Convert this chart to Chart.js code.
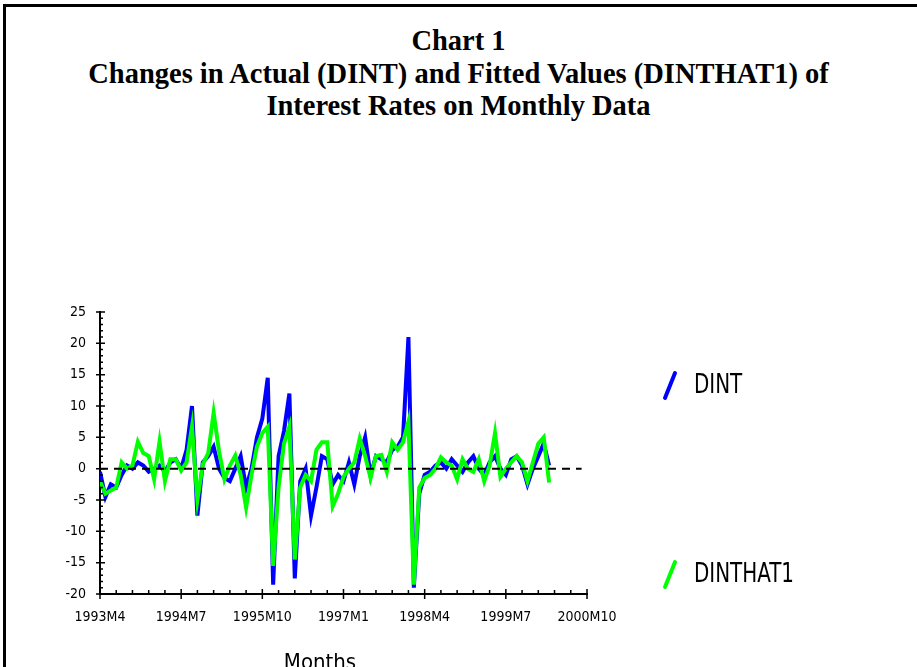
<!DOCTYPE html>
<html>
<head>
<meta charset="utf-8">
<script src="https://cdn.jsdelivr.net/npm/chart.js@4.4.1/dist/chart.umd.min.js"></script>
<style>
  html, body { margin: 0; padding: 0; background: #fff; overflow: hidden; }
  body { width: 917px; height: 667px; position: relative; }
  #frame {
    position: absolute; left: 3px; top: 4px; width: 1000px; height: 800px;
    border-left: 3px solid #000; border-top: 3px solid #000;
  }
  #title {
    position: absolute; left: 0; top: 25px; width: 917px; text-align: center;
    font: bold 28.5px "Liberation Serif", "Times New Roman", serif; line-height: 32.5px; color: #000;
  }
  #xtitle {
    position: absolute; left: 270px; width: 100px; top: 649px; text-align: center;
    font: 22px "DejaVu Sans Condensed", "Liberation Sans", Arial, sans-serif; color: #000;
  }
  #wrap { position: absolute; left: 0; top: 0; width: 917px; height: 667px; }
</style>
</head>
<body>
<div id="frame"></div>
<div id="title">Chart 1<br>Changes in Actual (DINT) and Fitted Values (DINTHAT1) of<br>Interest Rates on Monthly Data</div>
<div id="wrap"><canvas id="chart" width="917" height="667"></canvas></div>
<div id="xtitle">Months</div>
<script>
// Tick labels (every 15 months starting 1993M4)
const xTickLabels = ["1993M4", "1994M7", "1995M10", "1997M1", "1998M4", "1999M7", "2000M10"];

// Monthly changes, 1993M4 .. 2000M3
const dint = [
  -0.5, -4.5, -2.5, -3, -1, 0.5, 0, 1, 0.5, -0.5,
  0, 0.5, -0.5, 1, 1.5, 0, 3, 10, -7.5, 1,
  2, 3.5, 0, -1.5, -2, 0, 2, -3, 0, 5,
  8, 14.5, -18.5, 2, 6, 12, -17.5, -2, 0, -7.5,
  -3, 2, 1.5, -2.5, -1, -2, 1, -2.5, 2, 5,
  -1, 2, 1.5, 1, 3, 3.5, 5, 21, -19, -4,
  -1, -0.5, 0.5, 1, 0, 1.5, 0.5, -0.5, 1, 2,
  0, -1, 1, 2, 0, -1, 1.5, 2, 0.5, -2.5,
  0, 2, 4, 0.5
];
const dinthat1 = [
  -2, -4, -3.5, -3, 1, 0, 0.5, 4.3, 2.5, 2,
  -1.7, 4.3, -2, 1.5, 1.5, -0.3, 1, 6.7, -5, 0.7,
  2.5, 8.9, 2.8, -1.7, 0.5, 2.1, -1, -6.2, -1, 3.5,
  5.7, 6.7, -15.5, -3, 4, 6.7, -14.5, -3, -1, -2,
  3, 4.2, 4.2, -6, -4, -1.3, 0, 1, 4.8, 2,
  -1.5, 2, 2.2, -0.5, 4.2, 3, 4.2, 7.5, -18.5, -3,
  -1.5, -1, 0, 1.8, 1, 0.5, -1.7, 1.5, 0, -0.5,
  1.5, -2, 0.5, 5.7, -1.3, 0, 1, 2, 1, -2,
  1, 4, 5, -2.2
];
// zero reference line, month 0 to month 89
const zeroLine = [{ x: 0, y: 0 }, { x: 89, y: 0 }];

const narrow = "'DejaVu Sans Condensed', 'Liberation Sans', Arial, sans-serif";
const tickFont = { family: narrow, size: 14 };

// axis ticks (major + minor) and the two legend entries
const decorations = {
  id: "decorations",
  afterDraw(chart) {
    const { ctx, scales: { x, y } } = chart;
    const ax = x.getPixelForValue(0);
    const ay = y.getPixelForValue(-20);
    ctx.save();
    ctx.strokeStyle = "#000";
    ctx.lineWidth = 1.5;
    ctx.beginPath();
    for (let v = -20; v <= 25; v++) {
      const py = y.getPixelForValue(v);
      if (v % 5 === 0) { ctx.moveTo(ax - 4, py); ctx.lineTo(ax + 5, py); }
      else { ctx.moveTo(ax, py); ctx.lineTo(ax + 3, py); }
    }
    for (let m = 0; m <= 90; m += 3) {
      const px = x.getPixelForValue(m);
      if (m % 15 === 0) { ctx.moveTo(px, ay - 5); ctx.lineTo(px, ay + 5); }
      else { ctx.moveTo(px, ay - 4); ctx.lineTo(px, ay); }
    }
    ctx.stroke();

    // legend
    const items = [chart.data.datasets[1], chart.data.datasets[0]];
    const ys = [385, 574];
    ctx.font = "27px " + narrow;
    ctx.textBaseline = "middle";
    items.forEach((ds, i) => {
      ctx.strokeStyle = ds.borderColor;
      ctx.lineWidth = 4;
      ctx.lineCap = "round";
      ctx.beginPath();
      ctx.moveTo(665, ys[i] + 13);
      ctx.lineTo(675, ys[i] - 12);
      ctx.stroke();
      ctx.save();
      ctx.translate(694, ys[i] + 1);
      ctx.scale(0.82, 1);
      ctx.fillStyle = "#000";
      ctx.fillText(ds.label, 0, 0);
      ctx.restore();
    });
    ctx.restore();
  }
};

new Chart(document.getElementById("chart"), {
  type: "line",
  data: {
    datasets: [
      {
        label: "DINTHAT1",
        data: dinthat1.map((v, i) => ({ x: i, y: v })),
        borderColor: "#00ff00",
        borderWidth: 4,
        pointRadius: 0,
        tension: 0,
        order: 1
      },
      {
        label: "DINT",
        data: dint.map((v, i) => ({ x: i, y: v })),
        borderColor: "#0000ff",
        borderWidth: 4,
        pointRadius: 0,
        tension: 0,
        order: 2
      },
      {
        label: "zero",
        data: zeroLine,
        borderColor: "#000",
        borderWidth: 2,
        borderDash: [8, 6],
        pointRadius: 0,
        order: 0
      }
    ]
  },
  options: {
    responsive: false,
    animation: false,
    events: [],
    layout: { padding: { left: 0, top: 312, right: 330, bottom: 0 } },
    plugins: { legend: { display: false }, tooltip: { enabled: false } },
    scales: {
      x: {
        type: "linear",
        min: 0,
        max: 90,
        grid: { display: false },
        border: { display: true, color: "#000", width: 2 },
        ticks: {
          stepSize: 15,
          color: "#000",
          font: tickFont,
          padding: 7,
          maxRotation: 0,
          callback: (v) => xTickLabels[v / 15]
        },
        afterFit: (s) => { s.height = 73; }
      },
      y: {
        min: -20,
        max: 25,
        grid: { display: false },
        border: { display: true, color: "#000", width: 2 },
        ticks: { stepSize: 5, color: "#000", font: tickFont, padding: 6 },
        afterFit: (s) => { s.width = 100; }
      }
    }
  },
  plugins: [decorations]
});
</script>
</body>
</html>
